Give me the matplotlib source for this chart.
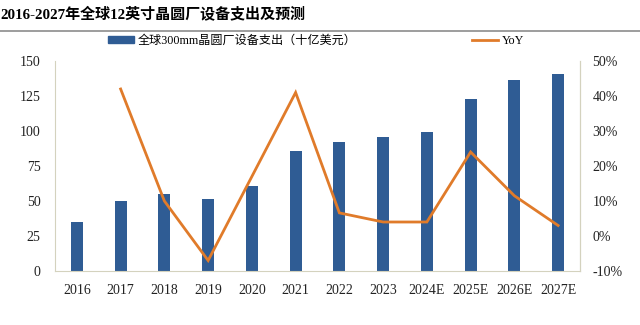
import matplotlib
matplotlib.use("Agg")
import matplotlib.pyplot as plt
from matplotlib.lines import Line2D
from matplotlib.patches import Patch
from matplotlib.ticker import FuncFormatter

categories = ["2016", "2017", "2018", "2019", "2020", "2021", "2022", "2023",
              "2024E", "2025E", "2026E", "2027E"]
spending = [35, 50, 55, 51.5, 61, 86, 92, 95.5, 99.5, 123.2, 136.5, 140.5]
yoy_categories = categories[1:]
yoy = [42.0, 10.0, -7.0, 17.0, 41.0, 6.6, 4.0, 4.0, 24.0, 11.5, 3.0]

title = "2016-2027年全球12英寸晶圆厂设备支出及预测"
bar_label = "全球300mm晶圆厂设备支出（十亿美元）"
line_label = "YoY"

serif = ["Liberation Serif", "Noto Sans CJK SC", "DejaVu Sans"]
plt.rcParams["font.family"] = serif

bar_color = "#2F5C94"
line_color = "#E07B2A"
axis_color = "#D4D2BE"

fig = plt.figure(figsize=(6.4, 3.25), dpi=100)
ax = fig.add_axes([55/640, 1-271/325, (580-55)/640, (271-61)/325])
ax2 = ax.twinx()

x = list(range(len(categories)))
ax.bar(x, spending, width=0.27, color=bar_color, zorder=2)
xi = [categories.index(c) for c in yoy_categories]
ax2.plot(xi, yoy, color=line_color, lw=2.0, solid_joinstyle="miter", zorder=3)

ax.set_xlim(-0.5, len(categories)-0.5)
ax.set_ylim(0, 150)
ax.set_yticks(range(0, 151, 25))
ax2.set_ylim(-10, 50)
ax2.set_yticks(range(-10, 51, 10))
ax2.yaxis.set_major_formatter(FuncFormatter(lambda v, p: f"{int(v)}%"))
ax.set_xticks(x)
ax.set_xticklabels(categories)

for a in (ax, ax2):
    a.spines["top"].set_visible(False)
    a.tick_params(length=0, labelsize=10, colors="#222222")
ax.spines["left"].set_color(axis_color)
ax.spines["right"].set_color(axis_color)
ax.spines["bottom"].set_color(axis_color)
ax2.spines["left"].set_visible(False)
ax2.spines["bottom"].set_visible(False)
ax2.spines["right"].set_color(axis_color)
ax.tick_params(axis="y", pad=10.5)
ax.tick_params(axis="x", pad=9)
ax2.tick_params(axis="y", pad=9)

fig.text(0.0, 1-14/325, title, fontsize=10.8, fontweight="bold",
         va="center", ha="left", family=serif)
fig.add_artist(Line2D([0, 1], [1-31/325, 1-31/325], color="#8C8C8C", lw=1.2,
                      transform=fig.transFigure))

handles = [Patch(color=bar_color, label=bar_label),
           Line2D([0], [0], color=line_color, lw=2, label=line_label)]
fig.legend(handles=handles, loc="center", bbox_to_anchor=(316/640, 1-41/325),
           ncol=2, frameon=False, fontsize=8.7, handlelength=2.2, handleheight=0.5,
           columnspacing=9.5, handletextpad=0.3)

fig.savefig("out.png", dpi=100, facecolor="white")
